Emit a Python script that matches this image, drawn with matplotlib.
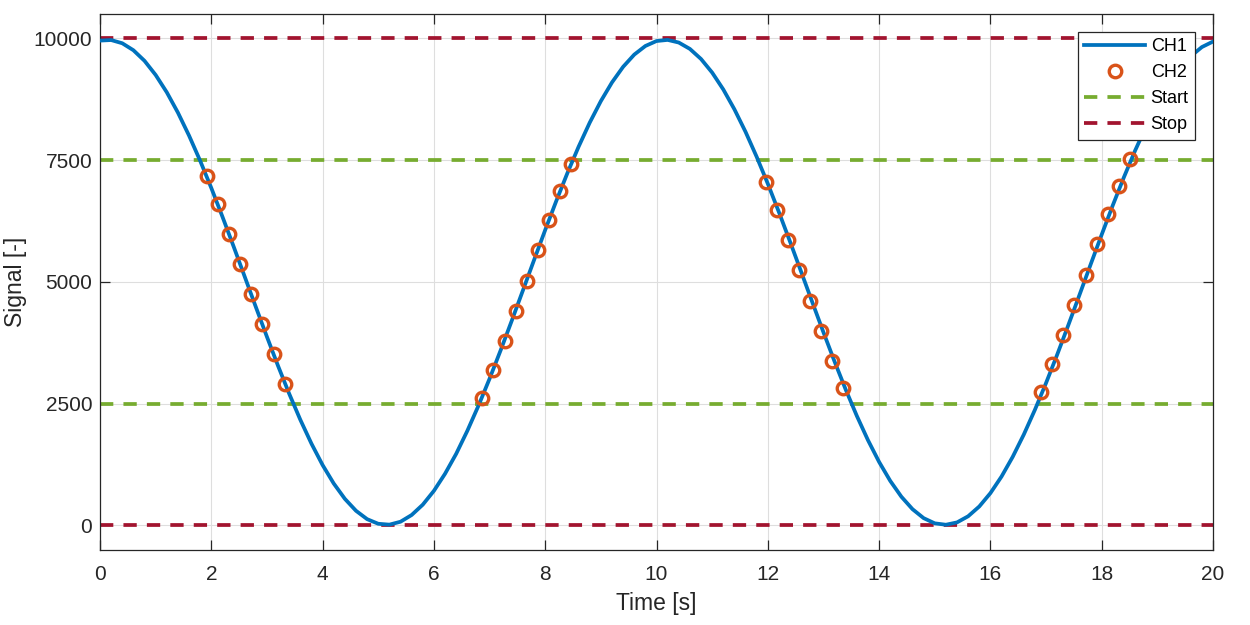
import matplotlib
matplotlib.use("Agg")
import matplotlib.pyplot as plt
from matplotlib.lines import Line2D

plt.rcParams['font.family'] = ['Liberation Sans', 'DejaVu Sans']

# ---- data ----
ch1_t = [round(0.2 * i, 1) for i in range(101)]
ch1_v = [9954, 9965, 9899, 9756, 9538, 9248, 8892, 8475, 8003, 7485,
         6927, 6338, 5729, 5107, 4484, 3870, 3272, 2701, 2166, 1676,
         1237, 858, 543, 298, 126, 31, 13, 73, 211, 423,
         707, 1058, 1467, 1938, 2454, 3009, 3596, 4204, 4825, 5448,
         6064, 6663, 7236, 7774, 8269, 8711, 9095, 9415, 9666, 9843,
         9945, 9968, 9914, 9783, 9576, 9297, 8951, 8543, 8080, 7567,
         7015, 6430, 5823, 5203, 4580, 3963, 3362, 2787, 2246, 1748,
         1301, 912, 587, 331, 147, 40, 11, 59, 185, 386,
         660, 1001, 1404, 1863, 2372, 2922, 3504, 4110, 4729, 5353,
         5970, 6573, 7150, 7694, 8194, 8647, 9040, 9371, 9632, 9821,
         9934]

ch2_t = [1.92, 2.12, 2.32, 2.52, 2.72, 2.92, 3.12, 3.32,
         6.87, 7.07, 7.27, 7.47, 7.67, 7.87, 8.07, 8.27, 8.47,
         11.96, 12.16, 12.36, 12.56, 12.76, 12.96, 13.16, 13.36,
         16.91, 17.11, 17.31, 17.51, 17.71, 17.91, 18.11, 18.31, 18.51]
ch2_v = [7170, 6595, 5978, 5362, 4745, 4129, 3512, 2910,
         2616, 3183, 3779, 4396, 5012, 5649, 6260, 6856, 7411,
         7047, 6465, 5855, 5238, 4610, 3985, 3383, 2813,
         2731, 3315, 3911, 4534, 5150, 5781, 6383, 6965, 7513]

start_levels = [2500, 7500]
stop_levels = [0, 10000]
x_range = [0, 20]

x_ticks = list(range(0, 21, 2))
y_ticks = [0, 2500, 5000, 7500, 10000]

# ---- styling ----
c_ch1 = '#0072BD'
c_ch2 = '#D95319'
c_start = '#77AC30'
c_stop = '#A2142F'
ink = '#262626'
LW = 2.7

fig = plt.figure(figsize=(12.5, 6.25), dpi=100)
ax = fig.add_axes([0.08, 0.1206, 0.8904, 0.857])

dash = (0, (3.55, 2.7))
for lv in start_levels:
    ax.plot(x_range, [lv, lv], color=c_start, lw=LW, linestyle=dash, zorder=2)
for lv in stop_levels:
    ax.plot(x_range, [lv, lv], color=c_stop, lw=LW, linestyle=dash, zorder=2)

ax.plot(ch1_t, ch1_v, color=c_ch1, lw=LW, zorder=3)
ax.plot(ch2_t, ch2_v, linestyle='none', marker='o', markersize=9,
        markerfacecolor='none', markeredgecolor=c_ch2, markeredgewidth=2.4, zorder=4)

ax.set_xlim(0, 20)
ax.set_ylim(-500, 10500)
ax.set_xticks(x_ticks)
ax.set_xticklabels([str(v) for v in x_ticks])
ax.set_yticks(y_ticks)
ax.set_yticklabels([str(v) for v in y_ticks])

ax.grid(True, color='#dedede', lw=0.8, zorder=0)
ax.set_axisbelow(True)
ax.tick_params(direction='in', length=7, width=0.9, colors=ink, labelsize=15,
               top=True, right=True)
ax.tick_params(axis='x', pad=11)
ax.tick_params(axis='y', pad=5.5)
for s in ax.spines.values():
    s.set_color(ink)
    s.set_linewidth(0.9)

ax.set_xlabel('Time [s]', fontsize=16.5, color=ink, labelpad=5.5)
ax.set_ylabel('Signal [-]', fontsize=16.5, color=ink, labelpad=5)

handles = [
    Line2D([], [], color=c_ch1, lw=LW),
    Line2D([], [], linestyle='none', marker='o', markersize=9,
           markerfacecolor='none', markeredgecolor=c_ch2, markeredgewidth=2.4),
    Line2D([], [], color=c_start, lw=LW, linestyle=dash),
    Line2D([], [], color=c_stop, lw=LW, linestyle=dash),
]
leg = ax.legend(handles, ['CH1', 'CH2', 'Start', 'Stop'], loc='upper right',
                fontsize=13, frameon=True, fancybox=False, framealpha=1,
                edgecolor=ink, handlelength=3.4, handletextpad=0.3,
                labelspacing=0.5, borderpad=0.35, borderaxespad=1.0)
leg.get_frame().set_linewidth(0.9)

fig.savefig('out.png', dpi=100)
